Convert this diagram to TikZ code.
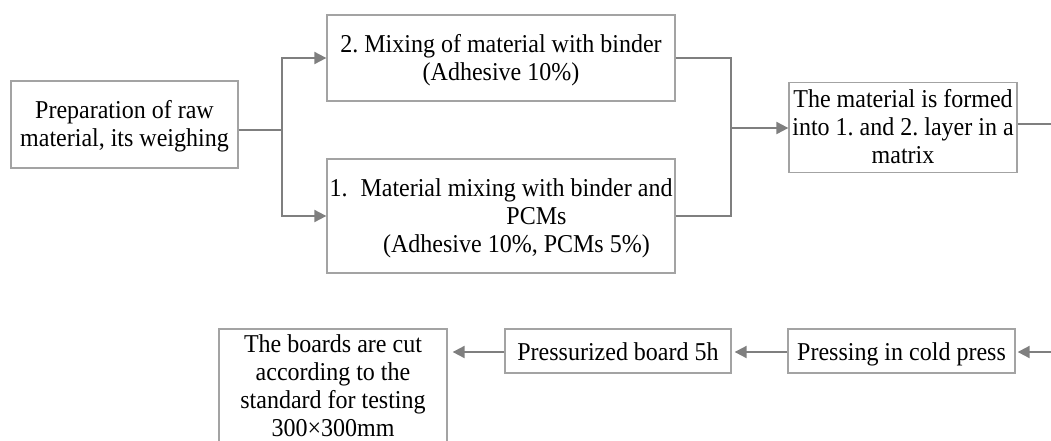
\documentclass[tikz,border=0pt]{standalone}
\usepackage{fontspec}
\setmainfont[FakeStretch=0.934]{Liberation Serif}
\usetikzlibrary{arrows.meta}
\frenchspacing
\definecolor{boxline}{HTML}{A3A3A3}
\definecolor{arrowline}{HTML}{7F7F7F}
% centred lines of a step; extra room on top lowers the text in its box
\newcommand\steptext[2][6pt]{\raisebox{0pt}[\dimexpr\height+#1\relax][\depth]{#2}}
\newcommand\steplines[2][6pt]{\steptext[#1]{\begin{tabular}{@{}c@{}}#2\end{tabular}}}
\tikzset{
  stepbox/.style={draw=boxline, line width=1.3pt, inner sep=0pt,
    font=\fontsize{25.7}{28}\selectfont},
  flow/.style={draw=arrowline, line width=2pt},
  flowarrow/.style={flow, -{Triangle[length=12pt,width=12pt]}},
}
\begin{document}
\begin{tikzpicture}[x=1pt,y=-1pt]
  \useasboundingbox (0,0) rectangle (1051,440);
  \clip (0,0) rectangle (1051,440);

  % process steps
  \node[stepbox, minimum width=227pt, minimum height=87pt] (prep) at (124.5,124.5)
    {\steplines[5.3pt]{Preparation of raw\\material, its weighing}};
  \node[stepbox, minimum width=348pt, minimum height=86pt] (mix2) at (501,58)
    {\steplines[5.2pt]{2. Mixing of material with binder\\(Adhesive 10\%)}};
  \node[stepbox, minimum width=348pt, minimum height=114pt] (mix1) at (501,216)
    {\steptext[5.8pt]{1.\hspace{13pt}\begin{tabular}[t]{@{}c@{}}Material mixing with binder and\\
     \hspace{40pt}PCMs\\(Adhesive 10\%, PCMs 5\%)\end{tabular}}};
  \node[stepbox, minimum width=228pt, minimum height=87pt] (matrix) at (903,127.5)
    {\steplines[5.4pt]{The material is formed\\into 1. and 2. layer in a\\matrix}};
  \node[stepbox, minimum width=227pt, minimum height=44pt] (press) at (901.5,351)
    {\steplines[6.8pt]{Pressing in cold press}};
  \node[stepbox, minimum width=226pt, minimum height=44pt] (board) at (618,351)
    {\steplines[6.8pt]{Pressurized board 5h}};
  \node[stepbox, minimum width=228pt, minimum height=118pt] (cut) at (333,388)
    {\steplines[1.5pt]{The boards are cut\\according to the\\standard for testing\\300×300mm}};

  % branching and merging connectors
  \coordinate (split) at (282,130);
  \coordinate (merge) at (731,128);
  \draw[flow] (prep.east |- split) -- (split);
  \draw[flowarrow] (split) |- (mix2.west);
  \draw[flowarrow] (split) |- (mix1.west);
  \draw[flow] (mix2.east) -| (merge);
  \draw[flow] (mix1.east) -| (merge);
  \draw[flowarrow] (merge) -- (matrix.west |- merge);

  % continuation off the right edge and back into the lower row
  \coordinate (outR) at (1056,124);
  \coordinate (inR) at (1056,352);
  \draw[flow, line width=1.2pt] (matrix.east |- outR) -- (outR);
  \draw[flowarrow, shorten >=2pt] (inR) -- (press.east |- inR);
  \draw[flowarrow, shorten >=3pt] (press.west |- inR) -- (board.east |- inR);
  \draw[flowarrow, shorten >=5pt] (board.west |- inR) -- (cut.east |- inR);
\end{tikzpicture}
\end{document}
